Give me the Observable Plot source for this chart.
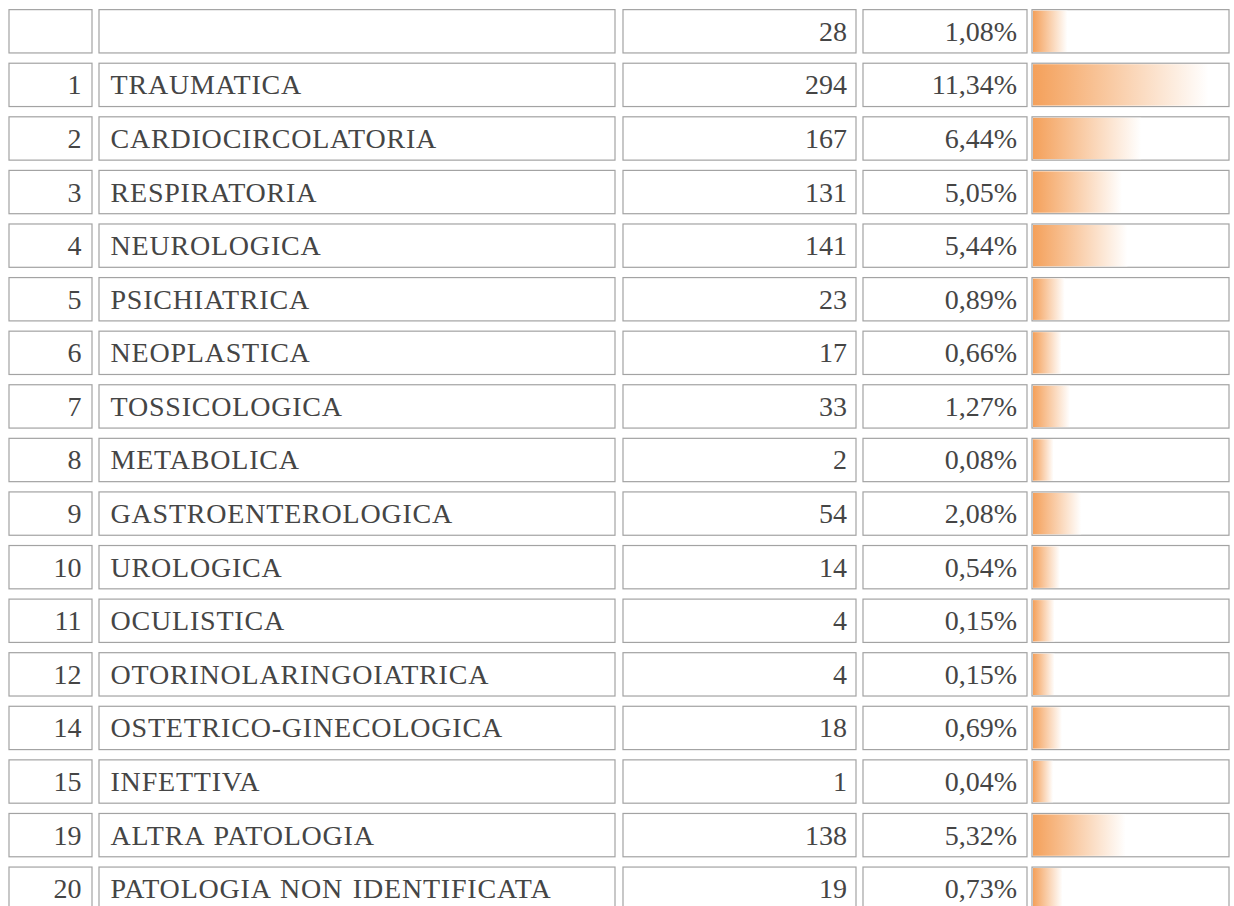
<!DOCTYPE html>
<html>
<head>
<meta charset="utf-8">
<script src="https://cdn.jsdelivr.net/npm/d3@7"></script>
<script src="https://cdn.jsdelivr.net/npm/@observablehq/plot@0.6"></script>
<style>
  html, body { margin: 0; padding: 0; background: #fff; overflow: hidden; }
  #wrap { position: relative; width: 1234px; height: 906px; }
  #wrap text { font-family: "Liberation Serif", "DejaVu Serif", serif; }
  #wrap .names text { letter-spacing: 0.8px; word-spacing: 2px; }
</style>
</head>
<body>
<div id="wrap"></div>
<script>
// ---- data ----
const codes = ["", "1", "2", "3", "4", "5", "6", "7", "8", "9", "10", "11", "12", "14", "15", "19", "20"];
const names = ["", "TRAUMATICA", "CARDIOCIRCOLATORIA", "RESPIRATORIA", "NEUROLOGICA", "PSICHIATRICA",
  "NEOPLASTICA", "TOSSICOLOGICA", "METABOLICA", "GASTROENTEROLOGICA", "UROLOGICA", "OCULISTICA",
  "OTORINOLARINGOIATRICA", "OSTETRICO-GINECOLOGICA", "INFETTIVA", "ALTRA PATOLOGIA", "PATOLOGIA NON IDENTIFICATA"];
const counts = [28, 294, 167, 131, 141, 23, 17, 33, 2, 54, 14, 4, 4, 18, 1, 138, 19];
const percents = [1.08, 11.34, 6.44, 5.05, 5.44, 0.89, 0.66, 1.27, 0.08, 2.08, 0.54, 0.15, 0.15, 0.69, 0.04, 5.32, 0.73];

const rows = codes.map((c, i) => ({i, code: c, name: names[i], count: counts[i], pct: percents[i]}));

// ---- layout / style ----
const W = 1234, H = 906;
const cols = [[9, 92], [99, 615], [623, 856], [863, 1027], [1032, 1229]];
const border = "#a3a3a3";
const ink = "#454545";
const font = "'Liberation Serif', 'DejaVu Serif', serif";
const fs = 28;
const yScale = {type: "band", domain: rows.map(d => d.i), range: [4.5, 915.5], paddingInner: 0.1916, paddingOuter: 0.0958, round: false, axis: null};
const fmtPct = v => v.toFixed(2).replace(".", ",") + "%";

const textOpts = {y: "i", fontSize: fs, fontFamily: font, fill: ink};

const table = Plot.plot({
  width: W, height: H, margin: 0,
  x: {type: "identity", axis: null},
  y: yScale,
  style: {background: "#fff", overflow: "hidden", fontFamily: font},
  marks: [
    ...cols.map(([a, b]) => Plot.barX(rows, {x1: () => a, x2: () => b, y: "i", fill: "#fff", stroke: border, strokeWidth: 1.2})),
    Plot.text(rows, {...textOpts, x: () => 81, text: "code", textAnchor: "end"}),
    Plot.text(rows, {...textOpts, x: () => 110, text: "name", textAnchor: "start", className: "names"}),
    Plot.text(rows, {...textOpts, x: () => 846.5, text: d => String(d.count), textAnchor: "end"}),
    Plot.text(rows, {...textOpts, x: () => 1016.5, text: d => fmtPct(d.pct), textAnchor: "end"})
  ]
});

// data bars (Excel-style: 10%..90% of the cell width, gradient fill)
const barW = 195;
const pmax = d3.max(percents);
const xMin = -pmax / 8, xMax = pmax * 9 / 8;
const bars = Plot.plot({
  width: barW, height: H, margin: 0,
  x: {domain: [xMin, xMax], range: [0, barW], axis: null},
  y: yScale,
  style: {background: "none", overflow: "hidden"},
  marks: [
    Plot.barX(rows, {x1: () => xMin, x2: "pct", y: "i", fill: "url(#dbgrad)", insetTop: 1, insetBottom: 1})
  ]
});
const defs = d3.select(bars).insert("defs", ":first-child");
const g = defs.append("linearGradient").attr("id", "dbgrad").attr("x1", 0).attr("x2", 1).attr("y1", 0).attr("y2", 0);
g.append("stop").attr("offset", 0).attr("stop-color", "#F4A05A");
g.append("stop").attr("offset", 1).attr("stop-color", "#ffffff");
bars.style.position = "absolute";
bars.style.left = "1033px";
bars.style.top = "0px";
bars.style.background = "none";

const wrap = document.getElementById("wrap");
wrap.appendChild(table);
wrap.appendChild(bars);
</script>
</body>
</html>
